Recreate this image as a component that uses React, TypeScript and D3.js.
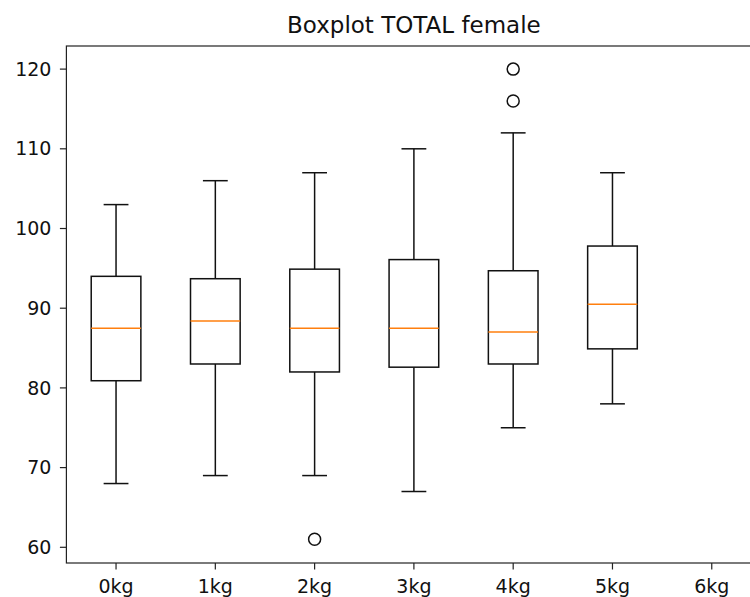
import React from 'react';
import { scaleLinear } from 'd3';

const categories = ['0kg', '1kg', '2kg', '3kg', '4kg', '5kg', '6kg'];
// 6kg has no data, only a tick
const whiskerHigh = [103, 106, 107, 110, 112, 107];
const q3 = [94, 93.7, 94.9, 96.1, 94.7, 97.8];
const medians = [87.5, 88.4, 87.5, 87.5, 87, 90.5];
const q1 = [80.9, 83, 82, 82.6, 83, 84.9];
const whiskerLow = [68, 69, 69, 67, 75, 78];
const outliers = [[], [], [61], [], [116, 120], []];
const yTicks = [60, 70, 80, 90, 100, 110, 120];

const W = 750, H = 597;
const left = 66.4, right = 761.4, top = 46, bottom = 563;

function App() {
    const x = scaleLinear().domain([0.5, categories.length + 0.5]).range([left, right]);
    const y = scaleLinear().domain([58.03, 122.9]).range([bottom, top]);
    const step = x(2) - x(1);
    const boxW = step * 0.5;
    const capW = step * 0.25;
    const font = 'DejaVu Sans, sans-serif';

    return (
        <svg width={W} height={H} style={{ position: 'absolute', left: 0, top: 0, background: '#fff' }}>
            <text x={(left + right) / 2} y={33} textAnchor="middle" fontFamily={font} fontSize={23} fill="#111">
                Boxplot TOTAL female
            </text>

            {whiskerHigh.map((hi, i) => {
                const cx = x(i + 1);
                return (
                    <g key={i} stroke="#111" strokeWidth={1.5} fill="none">
                        <line x1={cx} x2={cx} y1={y(q3[i])} y2={y(hi)} />
                        <line x1={cx} x2={cx} y1={y(q1[i])} y2={y(whiskerLow[i])} />
                        <line x1={cx - capW / 2} x2={cx + capW / 2} y1={y(hi)} y2={y(hi)} />
                        <line x1={cx - capW / 2} x2={cx + capW / 2} y1={y(whiskerLow[i])} y2={y(whiskerLow[i])} />
                        <rect x={cx - boxW / 2} y={y(q3[i])} width={boxW} height={y(q1[i]) - y(q3[i])} />
                        <line x1={cx - boxW / 2} x2={cx + boxW / 2} y1={y(medians[i])} y2={y(medians[i])}
                            stroke="#ff7f0e" />
                        {outliers[i].map((o, j) => (
                            <circle key={j} cx={cx} cy={y(o)} r={6} />
                        ))}
                    </g>
                );
            })}

            <rect x={left} y={top} width={right - left} height={bottom - top} fill="none" stroke="#222" strokeWidth={1.2} />

            {yTicks.map(t => (
                <g key={t}>
                    <line x1={left - 6.5} x2={left} y1={y(t)} y2={y(t)} stroke="#222" strokeWidth={1.2} />
                    <text x={left - 15} y={y(t)} dy="0.35em" textAnchor="end" fontFamily={font} fontSize={19} fill="#111">{t}</text>
                </g>
            ))}
            {categories.map((c, i) => (
                <g key={c}>
                    <line x1={x(i + 1)} x2={x(i + 1)} y1={bottom} y2={bottom + 6.5} stroke="#222" strokeWidth={1.2} />
                    <text x={x(i + 1)} y={592.5} textAnchor="middle" fontFamily={font} fontSize={19} fill="#111">{c}</text>
                </g>
            ))}
        </svg>
    );
}

export default App;
